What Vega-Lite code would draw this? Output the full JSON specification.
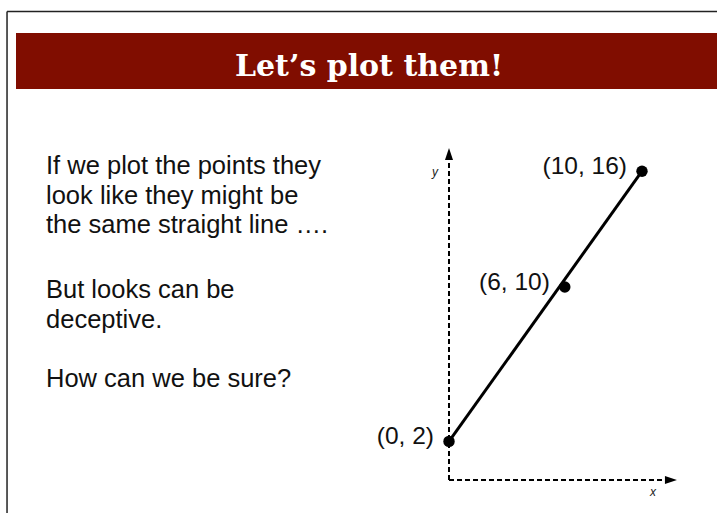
{
  "$schema": "https://vega.github.io/schema/vega-lite/v6.json",
  "width": 717,
  "height": 513,
  "autosize": {"type": "none"},
  "padding": 0,
  "background": "white",
  "config": {"view": {"stroke": null}},
  "data": {"values": [
    {"x": 0, "y": 2, "label": "(0, 2)"},
    {"x": 6, "y": 10, "label": "(6, 10)"},
    {"x": 10, "y": 16, "label": "(10, 16)"}
  ]},
  "layer": [
    {
      "data": {"values": [{}]},
      "mark": {"type": "rect", "color": "#800d00"},
      "encoding": {
        "x": {"datum": -22.435, "type": "quantitative", "scale": {"domain": [-23.2642, 13.886], "nice": false, "zero": false}, "axis": null},
        "x2": {"datum": 14.5},
        "y": {"datum": 20.26, "type": "quantitative", "scale": {"domain": [-1.7098, 24.8705], "nice": false, "zero": false}, "axis": null},
        "y2": {"datum": 23.16}
      }
    },
    {
      "data": {"values": [{"t": "Let’s plot them!"}]},
      "mark": {"type": "text", "font": "DejaVu Serif", "fontWeight": "bold", "fontSize": 30, "color": "white", "align": "center", "baseline": "alphabetic"},
      "encoding": {
        "x": {"datum": -4.145, "type": "quantitative", "scale": {"domain": [-23.2642, 13.886], "nice": false, "zero": false}, "axis": null},
        "y": {"datum": 20.93, "type": "quantitative", "scale": {"domain": [-1.7098, 24.8705], "nice": false, "zero": false}, "axis": null},
        "text": {"field": "t"}
      }
    },
    {
      "data": {"values": [{}]},
      "mark": {"type": "rule", "color": "#222222", "strokeWidth": 1.5},
      "encoding": {
        "x": {"datum": -22.9, "type": "quantitative", "scale": {"domain": [-23.2642, 13.886], "nice": false, "zero": false}, "axis": null},
        "y": {"datum": -5, "type": "quantitative", "scale": {"domain": [-1.7098, 24.8705], "nice": false, "zero": false}, "axis": null},
        "y2": {"datum": 24.275}
      }
    },
    {
      "data": {"values": [{}]},
      "mark": {"type": "rule", "color": "#222222", "strokeWidth": 1.5},
      "encoding": {
        "x": {"datum": -22.9, "type": "quantitative", "scale": {"domain": [-23.2642, 13.886], "nice": false, "zero": false}, "axis": null},
        "x2": {"datum": 20},
        "y": {"datum": 24.275, "type": "quantitative", "scale": {"domain": [-1.7098, 24.8705], "nice": false, "zero": false}, "axis": null}
      }
    },
    {
      "data": {"values": [{}]},
      "mark": {"type": "text", "font": "Liberation Sans", "fontSize": 25.5, "color": "#111111", "align": "left", "baseline": "alphabetic", "lineHeight": 29.7,
        "text": ["If we plot the points they", "look like they might be", "the same straight line …."]},
      "encoding": {
        "x": {"datum": -20.88, "type": "quantitative", "scale": {"domain": [-23.2642, 13.886], "nice": false, "zero": false}, "axis": null},
        "y": {"datum": 15.855, "type": "quantitative", "scale": {"domain": [-1.7098, 24.8705], "nice": false, "zero": false}, "axis": null}
      }
    },
    {
      "data": {"values": [{}]},
      "mark": {"type": "text", "font": "Liberation Sans", "fontSize": 25.5, "color": "#111111", "align": "left", "baseline": "alphabetic", "lineHeight": 29.7,
        "text": ["But looks can be", "deceptive."]},
      "encoding": {
        "x": {"datum": -20.88, "type": "quantitative", "scale": {"domain": [-23.2642, 13.886], "nice": false, "zero": false}, "axis": null},
        "y": {"datum": 9.43, "type": "quantitative", "scale": {"domain": [-1.7098, 24.8705], "nice": false, "zero": false}, "axis": null}
      }
    },
    {
      "data": {"values": [{}]},
      "mark": {"type": "text", "font": "Liberation Sans", "fontSize": 25.5, "color": "#111111", "align": "left", "baseline": "alphabetic",
        "text": "How can we be sure?"},
      "encoding": {
        "x": {"datum": -20.88, "type": "quantitative", "scale": {"domain": [-23.2642, 13.886], "nice": false, "zero": false}, "axis": null},
        "y": {"datum": 4.819, "type": "quantitative", "scale": {"domain": [-1.7098, 24.8705], "nice": false, "zero": false}, "axis": null}
      }
    },
    {
      "data": {"values": [{}]},
      "mark": {"type": "rule", "color": "black", "strokeWidth": 2, "strokeDash": [5, 3]},
      "encoding": {
        "x": {"datum": 0, "type": "quantitative", "scale": {"domain": [-23.2642, 13.886], "nice": false, "zero": false}, "axis": null},
        "y": {"datum": 0, "type": "quantitative", "scale": {"domain": [-1.7098, 24.8705], "nice": false, "zero": false}, "axis": null},
        "y2": {"datum": 16.58}
      }
    },
    {
      "data": {"values": [{}]},
      "mark": {"type": "rule", "color": "black", "strokeWidth": 2, "strokeDash": [5, 3]},
      "encoding": {
        "x": {"datum": 0, "type": "quantitative", "scale": {"domain": [-23.2642, 13.886], "nice": false, "zero": false}, "axis": null},
        "x2": {"datum": 11.19},
        "y": {"datum": 0, "type": "quantitative", "scale": {"domain": [-1.7098, 24.8705], "nice": false, "zero": false}, "axis": null}
      }
    },
    {
      "data": {"values": [{}]},
      "mark": {"type": "point", "filled": true, "color": "black", "opacity": 1, "size": 144, "shape": "M0,-1L0.67,1L-0.67,1Z"},
      "encoding": {
        "x": {"datum": 0, "type": "quantitative", "scale": {"domain": [-23.2642, 13.886], "nice": false, "zero": false}, "axis": null},
        "y": {"datum": 16.89, "type": "quantitative", "scale": {"domain": [-1.7098, 24.8705], "nice": false, "zero": false}, "axis": null}
      }
    },
    {
      "data": {"values": [{}]},
      "mark": {"type": "point", "filled": true, "color": "black", "opacity": 1, "size": 144, "shape": "M1,0L-1,0.67L-1,-0.67Z"},
      "encoding": {
        "x": {"datum": 11.5, "type": "quantitative", "scale": {"domain": [-23.2642, 13.886], "nice": false, "zero": false}, "axis": null},
        "y": {"datum": 0, "type": "quantitative", "scale": {"domain": [-1.7098, 24.8705], "nice": false, "zero": false}, "axis": null}
      }
    },
    {
      "data": {"values": [{"t": "y", "px": -0.725, "py": 15.96}, {"t": "x", "px": 10.57, "py": -0.622}]},
      "mark": {"type": "text", "font": "Liberation Sans", "fontStyle": "italic", "fontSize": 12, "color": "#222222", "align": "center", "baseline": "middle"},
      "encoding": {
        "x": {"field": "px", "type": "quantitative", "scale": {"domain": [-23.2642, 13.886], "nice": false, "zero": false}, "axis": null},
        "y": {"field": "py", "type": "quantitative", "scale": {"domain": [-1.7098, 24.8705], "nice": false, "zero": false}, "axis": null},
        "text": {"field": "t"}
      }
    },
    {
      "transform": [{"filter": "datum.x != 6"}],
      "mark": {"type": "line", "color": "black", "strokeWidth": 3},
      "encoding": {
        "x": {"field": "x", "type": "quantitative", "scale": {"domain": [-23.2642, 13.886], "nice": false, "zero": false}, "axis": null},
        "y": {"field": "y", "type": "quantitative", "scale": {"domain": [-1.7098, 24.8705], "nice": false, "zero": false}, "axis": null}
      }
    },
    {
      "mark": {"type": "circle", "color": "black", "opacity": 1, "size": 130},
      "encoding": {
        "x": {"field": "x", "type": "quantitative", "scale": {"domain": [-23.2642, 13.886], "nice": false, "zero": false}, "axis": null},
        "y": {"field": "y", "type": "quantitative", "scale": {"domain": [-1.7098, 24.8705], "nice": false, "zero": false}, "axis": null}
      }
    },
    {
      "mark": {"type": "text", "font": "Liberation Sans", "fontSize": 24.5, "color": "#111111", "align": "right", "baseline": "middle", "dx": -15, "dy": -4},
      "encoding": {
        "x": {"field": "x", "type": "quantitative", "scale": {"domain": [-23.2642, 13.886], "nice": false, "zero": false}, "axis": null},
        "y": {"field": "y", "type": "quantitative", "scale": {"domain": [-1.7098, 24.8705], "nice": false, "zero": false}, "axis": null},
        "text": {"field": "label"}
      }
    }
  ]
}
